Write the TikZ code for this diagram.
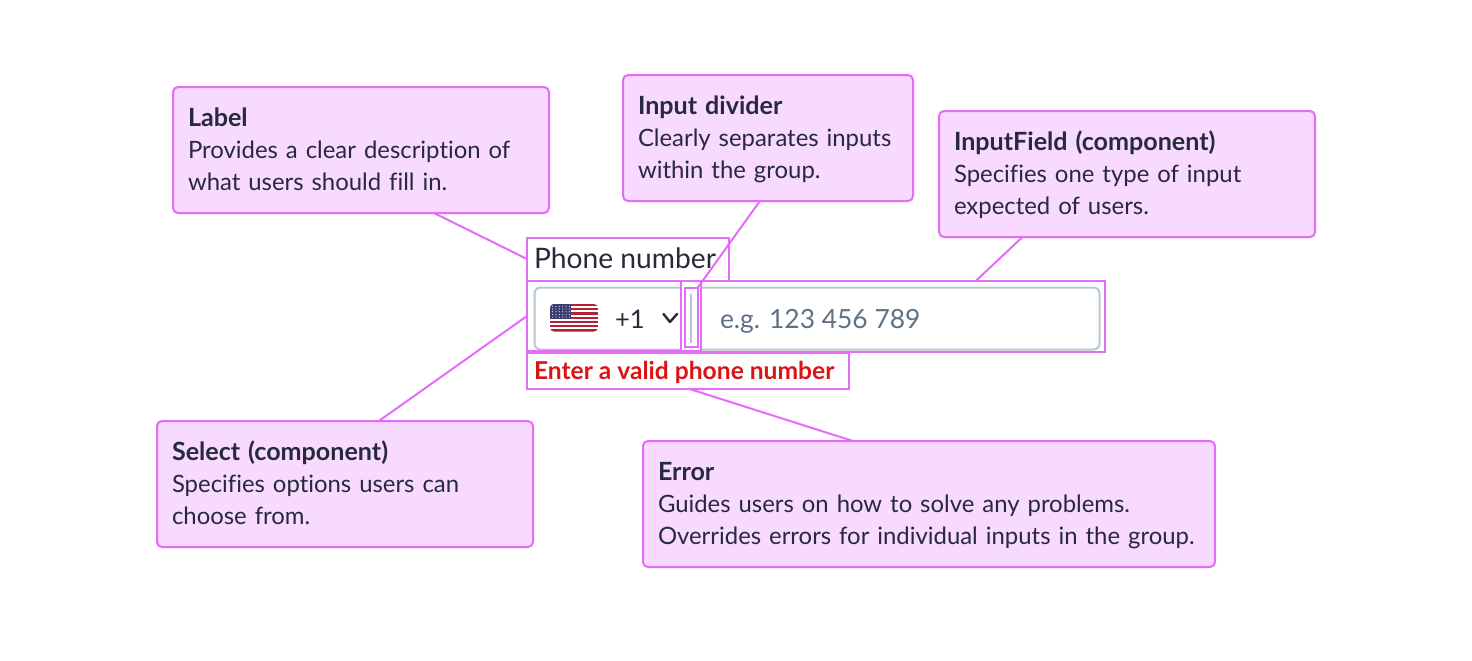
\documentclass[tikz,border=0pt]{standalone}
\usepackage{fontspec}
\setmainfont{Lato}[Ligatures=NoCommon]
\usetikzlibrary{calc}
\definecolor{hl}{HTML}{E66BFB}
\definecolor{callfill}{HTML}{F8D9FF}
\definecolor{ink}{HTML}{272A3A}
\definecolor{grayline}{HTML}{BAC8D6}
\definecolor{holder}{HTML}{5E7187}
\definecolor{errred}{HTML}{D91414}
\definecolor{flagred}{HTML}{B22234}
\definecolor{flagblue}{HTML}{3C3B6E}
\newcommand{\cstrut}{\vrule height 12.2pt depth 3.8pt width 0pt\relax}
\newcommand{\chead}[1]{\cstrut{\fontsize{12.55}{16}\selectfont\bfseries #1}}
\tikzset{
  every node/.style={outer sep=0pt},
  callout/.style={draw=hl,fill=callfill,line width=1pt,rounded corners=2.5pt,anchor=north west,
    inner xsep=7.5pt,inner ysep=7.5pt,align=left,text=ink,font=\fontsize{11.95}{16}\selectfont},
  hlbox/.style={draw=hl,line width=1pt,anchor=north west,inner sep=0pt},
  conn/.style={draw=hl,line width=1pt},
  field/.style={draw=grayline,line width=1pt,rounded corners=3pt},
  plain/.style={anchor=base west,inner sep=0pt,text=ink}
}
\begin{document}
\begin{tikzpicture}[x=0.5pt,y=-0.5pt]
\useasboundingbox (0,0) rectangle (1472,660);
% input parts
\draw[field,fill=white] (681,287.5) -- (534.5,287.5) -- (534.5,349.5) -- (681,349.5);
\draw[field,fill=white] (701,287.5) -- (1099.5,287.5) -- (1099.5,349.5) -- (701,349.5);
\draw[field] (691,294) -- (691,343);
% flag
\begin{scope}
\clip[rounded corners=2pt] (550,304) rectangle (598,331.5);
\fill[white] (550,304) rectangle (598,331.5);
\foreach \i in {0,2,...,12}{\fill[flagred] (550,{304+\i*2.115}) rectangle (598,{304+(\i+1)*2.115});}
\fill[flagblue] (550,304) rectangle (571,318.8);
\foreach \r in {0,...,4}{\foreach \c in {0,...,5}{\fill[white!85!flagblue] ({552.5+\c*3.4},{306.3+\r*2.7}) circle[radius=0.6];}}
\end{scope}
\draw[ink,line width=1.2pt,line cap=round,line join=round] (663.5,314) -- (670,322) -- (677,314);
% texts
\node[plain,font=\fontsize{14.1}{16}\selectfont] (phone) at (534,268) {Phone number};
\node[plain,font=\fontsize{12.8}{16}\selectfont] (code) at (615,328) {+1};
\node[plain,text=holder,font=\fontsize{13.2}{16}\selectfont] (holder) at (720,328.5) {e.g. 123 456 789};
\node[plain,text=errred,font=\bfseries\fontsize{12.3}{16}\selectfont] (err) at (534,379) {Enter a valid phone number};
% highlight boxes
\node[hlbox,minimum width=101pt,minimum height=21.5pt] (hlabel) at (527,237.5) {};
\node[hlbox,minimum width=77pt,minimum height=35pt] (hselect) at (527,281) {};
\node[hlbox,minimum width=10pt,minimum height=35pt] (hgap) at (681,281) {};
\node[hlbox,minimum width=6.5pt,minimum height=29.5pt] (hdiv) at (684.5,288) {};
\node[hlbox,minimum width=202pt,minimum height=35.5pt] (hinput) at (701,281) {};
\node[hlbox,minimum width=161pt,minimum height=18pt] (herror) at (527,352.5) {};
% callouts
\node[callout,text width=173pt] (clabel) at (173,87) {\chead{Label}\\\cstrut Provides a clear description of\\\cstrut what users should fill in.};
\node[callout,text width=130pt] (cdiv) at (623,75) {\chead{Input divider}\\\cstrut Clearly separates inputs\\\cstrut within the group.};
\node[callout,text width=173pt] (cfield) at (939,111) {\chead{InputField (component)}\\\cstrut Specifies one type of input\\\cstrut expected of users.};
\node[callout,text width=173pt] (cselect) at (157,421) {\chead{Select (component)}\\\cstrut Specifies options users can\\\cstrut choose from.};
\node[callout,text width=271pt] (cerror) at (643,441) {\chead{Error}\\\cstrut Guides users on how to solve any problems.\\\cstrut Overrides errors for individual inputs in the group.};
% connectors
\draw[conn] ($(clabel.south west)!0.694!(clabel.south east)$) -- (hlabel.west);
\draw[conn] ($(cdiv.south west)!0.472!(cdiv.south east)$) -- (hdiv.north east);
\draw[conn] ($(cfield.south west)!0.222!(cfield.south east)$) -- ($(hinput.north west)!0.68!(hinput.north east)$);
\draw[conn] ($(cselect.north west)!0.59!(cselect.north east)$) -- (hselect.west);
\draw[conn] ($(cerror.north west)!0.367!(cerror.north east)$) -- (herror.south);
\end{tikzpicture}
\end{document}
